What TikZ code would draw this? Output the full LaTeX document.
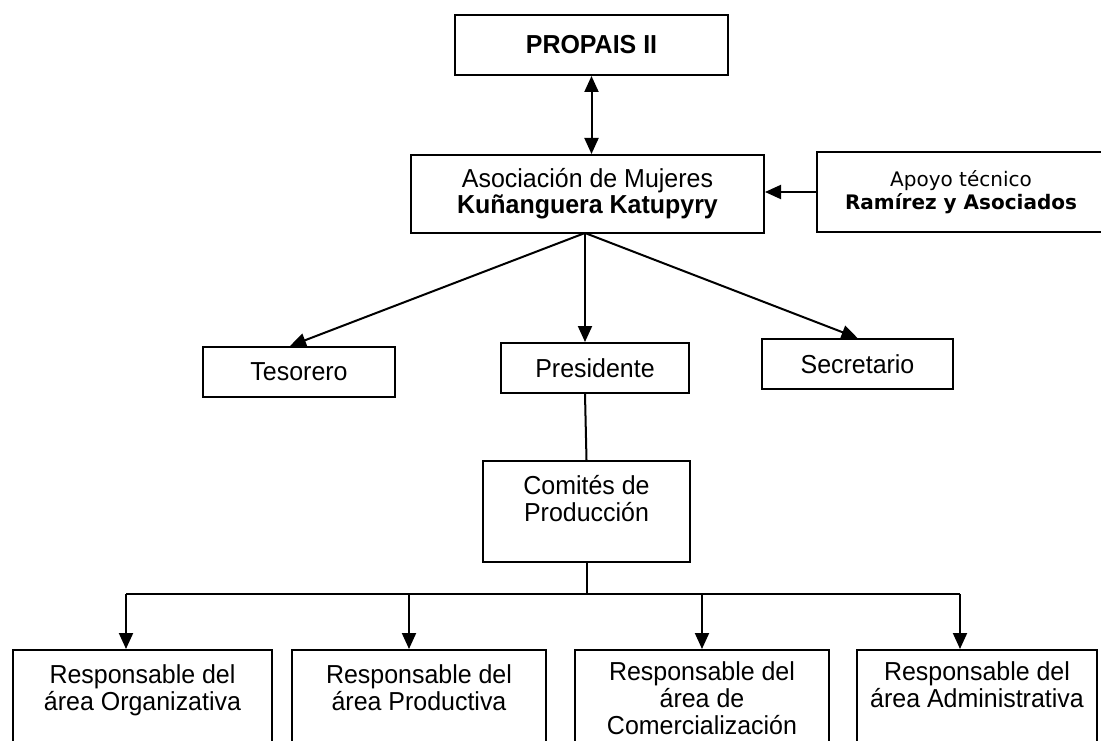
\documentclass[tikz,border=0pt]{standalone}
\usepackage{fontspec}
\setmainfont{Liberation Sans}[FakeStretch=0.96]
\newfontfamily\apoyofont{DejaVu Sans}
\usetikzlibrary{arrows.meta}
\begin{document}
\begin{tikzpicture}[x=1pt,y=-1pt,
  box/.style={draw, line width=2pt, inner sep=0pt, align=center, font=\fontsize{26}{26}\selectfont},
  txt/.style={inner sep=0pt, align=center, font=\fontsize{26}{27}\selectfont},
  conn/.style={line width=2pt},
  arr/.style={conn, -{Triangle[length=16pt,width=14pt]}},
  dblarr/.style={conn, {Triangle[length=16pt,width=14pt]}-{Triangle[length=16pt,width=14pt]}}
]
\useasboundingbox (0,0) rectangle (1101,741);
\fill[white] (0,0) rectangle (1101,741);
\clip (0,0) rectangle (1101,741);

% top
\node[box, minimum width=273pt, minimum height=60pt, font=\bfseries\fontsize{26}{26}\selectfont] (propais) at (591.5,45) {PROPAIS II};
\node[box, minimum width=353pt, minimum height=78pt] (asoc) at (587.5,194) {Asociación de Mujeres\\\textbf{Kuñanguera Katupyry}};
\node[box, minimum width=288pt, minimum height=80pt, font=\apoyofont\fontsize{20}{23}\selectfont] (apoyo) at (961,192) {Apoyo técnico\\\textbf{Ramírez y Asociados}};

% middle
\node[box, minimum width=192pt, minimum height=50pt] (tes) at (299,372) {Tesorero};
\node[box, minimum width=188pt, minimum height=50pt] (pres) at (595,368) {Presidente};
\node[box, minimum width=191pt, minimum height=50pt] (sec) at (857.5,364) {Secretario};
\node[box, minimum width=207pt, minimum height=101pt] (com) at (586.5,511.5) {};
\node[txt] (comt) at (586.5,499) {Comités de\\Producción};

% bottom boxes
\node[box, anchor=north, minimum width=259pt, minimum height=140pt] (r1) at (142.5,649) {};
\node[box, anchor=north, minimum width=254pt, minimum height=140pt] (r2) at (419,649) {};
\node[box, anchor=north, minimum width=254pt, minimum height=140pt] (r3) at (702,649) {};
\node[box, anchor=north, minimum width=240pt, minimum height=140pt] (r4) at (977,649) {};
\node[txt, anchor=north] (r1t) at (142.5,664) {Responsable del\\área Organizativa};
\node[txt, anchor=north] (r2t) at (419,664) {Responsable del\\área Productiva};
\node[txt, anchor=north] (r3t) at (702,661) {Responsable del\\área de\\Comercialización};
\node[txt, anchor=north] (r4t) at (977,661) {Responsable del\\área Administrativa};

% connectors
\draw[dblarr] (propais.south) -- (propais.south |- asoc.north);
\draw[arr] (apoyo.west) -- (apoyo.west -| asoc.east);
\coordinate (ao) at (585,233);
\draw[arr] (ao) -- ([xshift=-9pt]tes.north);
\draw[arr] (ao) -- (ao |- pres.north);
\draw[arr] (ao) -- (sec.north);
\draw[conn] (ao |- pres.south) -- (com.north);

\coordinate (bl) at (126,594);
\coordinate (br) at (960,594);
\coordinate (b2) at (409,594);
\coordinate (b3) at (702,594);
\draw[conn] (com.south) -- (com.south |- bl);
\draw[conn] (bl) -- (br);
\draw[arr] (bl) -- (bl |- r1.north);
\draw[arr] (b2) -- (b2 |- r2.north);
\draw[arr] (b3) -- (b3 |- r3.north);
\draw[arr] (br) -- (br |- r4.north);
\end{tikzpicture}
\end{document}
